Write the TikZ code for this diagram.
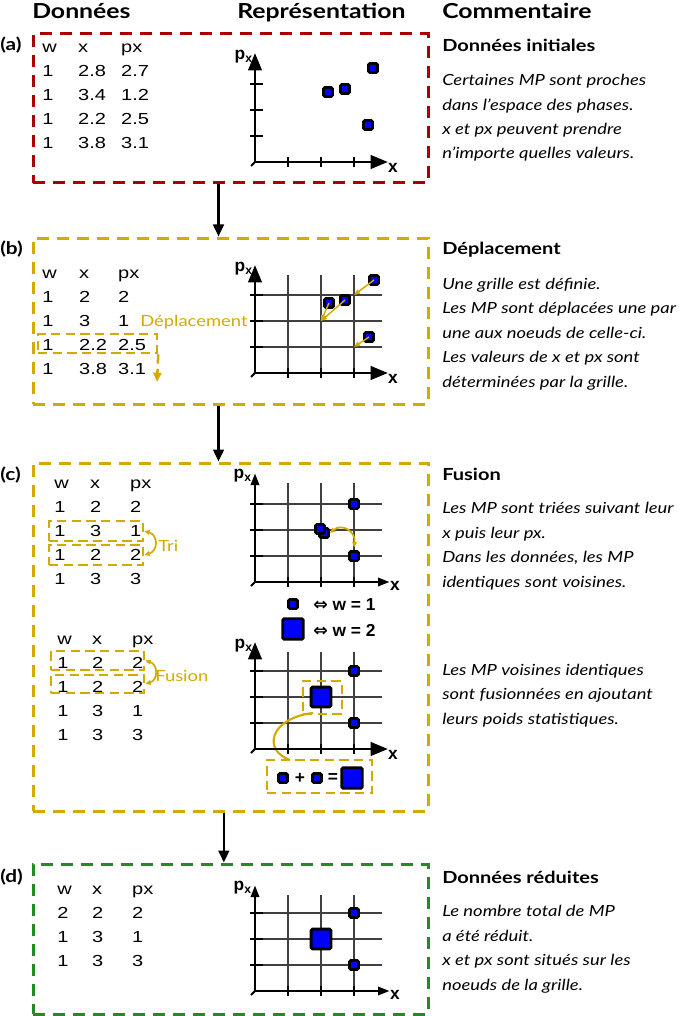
\documentclass[tikz,border=0pt]{standalone}
\usepackage{fontspec}
\setmainfont{Lato}[FakeStretch=1.2]
\newfontfamily\tabfont{Liberation Sans}[FakeStretch=1.25]
\newfontfamily\axfont{Liberation Sans}
\newfontfamily\symfont{DejaVu Sans}
\usetikzlibrary{positioning,arrows.meta,fit,calc}
\definecolor{panred}{HTML}{AA0000}
\definecolor{pangold}{HTML}{D4AA00}
\definecolor{pangreen}{HTML}{228B22}
\definecolor{mpblue}{HTML}{0000FF}
\tikzset{
  frame/.style   ={draw=#1,line width=2.25pt,dash pattern=on 9pt off 6pt,inner sep=0pt},
  hl/.style      ={draw=pangold,line width=1.9pt,dash pattern=on 7pt off 4pt,inner sep=0pt},
  flow/.style    ={-{Triangle[length=9pt,width=8pt]},line width=1.9pt},
  mp/.style      ={draw=black,fill=mpblue,line width=2.1pt,inner sep=0pt,minimum size=6.8pt,rounded corners=1pt},
  mpbig/.style   ={mp,minimum size=14.8pt},
  gridline/.style={draw=black!75,line width=0.8pt},
  tick/.style    ={line width=1.4pt},
  axbig/.style   ={line width=2.2pt,-{Triangle[length=13pt,width=10pt]}},
  axsmall/.style ={line width=2.2pt,-{Triangle[length=9pt,width=6pt]}},
  axlabel/.style ={font=\axfont\bfseries\fontsize{13}{15}\selectfont,inner sep=0pt},
  mvarrow/.style ={draw=pangold,line width=1.1pt,-{Triangle[length=4.5pt,width=3.5pt]}},
  swap/.style    ={draw=pangold,line width=1.3pt,{Triangle[length=4pt,width=3.5pt]}-{Triangle[length=4pt,width=3.5pt]}},
  link/.style    ={draw=pangold,line width=1.6pt},
  tab/.style     ={anchor=base west,inner sep=0pt,font=\tabfont\fontsize{12}{18}\selectfont},
  head/.style    ={anchor=base west,inner sep=0pt,font=\bfseries\fontsize{15.5}{18}\selectfont},
  panlbl/.style  ={anchor=base west,inner sep=0pt,font=\bfseries\fontsize{13}{15}\selectfont},
  title/.style   ={anchor=base west,inner sep=0pt,font=\bfseries\fontsize{12.5}{15}\selectfont},
  comment/.style ={anchor=base west,inner sep=0pt,align=left,font=\itshape\fontsize{11.5}{18.3}\selectfont},
  goldtxt/.style ={anchor=base west,inner sep=0pt,text=pangold,font=\fontsize{11.5}{14}\selectfont},
  legtxt/.style  ={anchor=west,inner sep=0pt,font=\axfont\bfseries\fontsize{13}{15}\selectfont},
}

\begin{document}
\begin{tikzpicture}[x=0.75pt,y=-0.75pt]
  \useasboundingbox (0,0) rectangle (684,1016);

  % column headers
  \node[head] (hdon) at (32,19) {Données};
  \node[head] (hrep) at (237,19) {Représentation};
  \node[head] (hcom) at (442,19) {Commentaire};

  % panels
  \node[frame=panred,   fit={(33,34)(428,183)}]  (pa) {};
  \node[frame=pangold,  fit={(33,238)(428,404)}] (pb) {};
  \node[frame=pangold,  fit={(33,463)(428,811)}] (pc) {};
  \node[frame=pangreen, fit={(33,864)(428,1014)}] (pd) {};
  \node[panlbl] (la) at (0,51)  {(a)};
  \node[panlbl] (lb) at (0,254) {(b)};
  \node[panlbl] (lc) at (0,480) {(c)};
  \node[panlbl] (ld) at (0,882) {(d)};

  \draw[flow] ([xshift=-9pt]pa.south) -- ([xshift=-9pt]pb.north);
  \draw[flow] ([xshift=-9pt]pb.south) -- ([xshift=-9pt]pc.north);
  \draw[flow] ([xshift=-5pt]pc.south) -- ([xshift=-5pt]pd.north);

  % ---- (a) donnees initiales
  \node[tab] (ta) at (42,53) {\begin{tabular}[t]{@{}p{27pt}@{}p{32.25pt}@{}l@{}}
    w & x & px\\ 1 & 2.8 & 2.7\\ 1 & 3.4 & 1.2\\ 1 & 2.2 & 2.5\\ 1 & 3.8 & 3.1\end{tabular}};
  \begin{scope}[shift={(255,162)}]
    \foreach \gx in {33,66,99} \draw[tick] (\gx,-5) -- (\gx,5);
    \foreach \gy in {-26,-52,-78} \draw[tick] (-5,\gy) -- (8,\gy);
    \draw[tick] (0,0) -- (-4,4);
    \draw[axbig] (0,0) -- (0,-109);
    \draw[axbig] (0,0) -- (133,0);
    \node[axlabel,anchor=east] (apx) at (-2,-105) {p\textsubscript{x}};
    \node[axlabel] (ax) at (138,6) {x};
    \node[mp] (a1) at (73,-70) {};
    \node[mp] (a2) at (90,-73) {};
    \node[mp] (a3) at (118,-94) {};
    \node[mp] (a4) at (113,-37) {};
  \end{scope}
  \node[title] (tia) at (442,52) {Données initiales};
  \node[comment] (cma) at (442,159) {Certaines MP sont proches\\dans l'espace des phases.\\x et px peuvent prendre\\n'importe quelles valeurs.};

  % ---- (b) deplacement
  \node[tab] (tb) at (42,278) {\begin{tabular}[t]{@{}p{27.75pt}@{}p{29.25pt}@{}l@{}}
    w & x & px\\ 1 & 2 & 2\\ 1 & 3 & 1\\ 1 & 2.2 & 2.5\\ 1 & 3.8 & 3.1\end{tabular}};
  \node[hl, fit={(38,334)(157,353)}] (hb) {};
  \coordinate (hbend) at (157,382);
  \draw[hl,-{Triangle[length=7pt,width=6pt,fill=pangold]}] (hb.south east) -- (hbend);
  \node[goldtxt] (gdep) at (140,326) {Déplacement};
  \begin{scope}[shift={(255,373)}]
    \foreach \gx in {33,66,99} \draw[gridline] (\gx,0) -- (\gx,-98);
    \foreach \gy in {-26,-52,-78} \draw[gridline] (-5,\gy) -- (127,\gy);
    \foreach \gx in {33,66,99} \draw[tick] (\gx,-5) -- (\gx,5);
    \foreach \gy in {-26,-52,-78} \draw[tick] (-5,\gy) -- (8,\gy);
    \draw[tick] (0,0) -- (-4,4);
    \draw[axbig] (0,0) -- (0,-108);
    \draw[axbig] (0,0) -- (133,0);
    \node[axlabel,anchor=east] (bpx) at (-2,-104) {p\textsubscript{x}};
    \node[axlabel] (bx) at (138,6) {x};
    \coordinate (bg1) at (66,-52);
    \coordinate (bg2) at (99,-78);
    \coordinate (bg3) at (99,-26);
    \node[mp] (b1) at (74,-70) {};
    \node[mp] (b2) at (90,-73) {};
    \node[mp] (b3) at (119,-93) {};
    \node[mp] (b4) at (114,-36) {};
    \draw[mvarrow] (b1.center) -- (bg1);
    \draw[mvarrow] (b2.center) -- (bg1);
    \draw[mvarrow] (b3.center) -- (bg2);
    \draw[mvarrow] (b4.center) -- (bg3);
  \end{scope}
  \node[title] (tib) at (442,254) {Déplacement};
  \node[comment] (cmb) at (442,387) {Une grille est définie.\\Les MP sont déplacées une par\\une aux noeuds de celle-ci.\\Les valeurs de x et px sont\\déterminées par la grille.};

  % ---- (c) fusion : tri
  \node[tab] (tc) at (54,488) {\begin{tabular}[t]{@{}p{27pt}@{}p{30pt}@{}l@{}}
    w & x & px\\ 1 & 2 & 2\\ 1 & 3 & 1\\ 1 & 2 & 2\\ 1 & 3 & 3\end{tabular}};
  \node[hl, fit={(49,521)(143,541)}] (hc1) {};
  \node[hl, fit={(49,545)(143,565)}] (hc2) {};
  \draw[swap] (hc1.east) .. controls +(14,4) and +(14,-4) .. (hc2.east);
  \node[goldtxt] (gtri) at (158,551) {Tri};
  \begin{scope}[shift={(255,582)}]
    \foreach \gx in {33,66,99} \draw[gridline] (\gx,0) -- (\gx,-99);
    \foreach \gy in {-26,-52,-78} \draw[gridline] (-5,\gy) -- (127,\gy);
    \foreach \gx in {33,66,99} \draw[tick] (\gx,-5) -- (\gx,5);
    \foreach \gy in {-26,-52,-78} \draw[tick] (-5,\gy) -- (8,\gy);
    \draw[tick] (0,0) -- (-4,4);
    \draw[axsmall] (0,0) -- (0,-109);
    \draw[axsmall] (0,0) -- (135,0);
    \node[axlabel,anchor=east] (cpx) at (-3,-106) {p\textsubscript{x}};
    \node[axlabel] (cx) at (140,4) {x};
    \node[mp] (c1) at (99,-78) {};
    \node[mp] (c2) at (99,-26) {};
    \node[mp] (c3) at (69,-49) {};
    \node[mp] (c4) at (65,-53) {};
    \draw[swap] (c3.east) .. controls +(12,-10) and +(2,-16) .. ([yshift=2pt]c2.north);
  \end{scope}
  \node[mp] (lg1) at (293,604) {};
  \node[legtxt] (lgt1) at (313,605) {{\symfont\bfseries ⇔} w = 1};
  \node[mp,minimum size=15.4pt] (lg2) at (293,629) {};
  \node[legtxt] (lgt2) at (313,630) {{\symfont\bfseries ⇔} w = 2};
  \node[title] (tic) at (442,480) {Fusion};
  \node[comment] (cmc) at (442,587) {Les MP sont triées suivant leur\\x puis leur px.\\Dans les données, les MP\\identiques sont voisines.};

  % ---- (c) fusion : somme des poids
  \node[tab] (tf) at (57,644) {\begin{tabular}[t]{@{}p{26.25pt}@{}p{30pt}@{}l@{}}
    w & x & px\\ 1 & 2 & 2\\ 1 & 2 & 2\\ 1 & 3 & 1\\ 1 & 3 & 3\end{tabular}};
  \node[hl, fit={(51,651)(144,670)}] (hf1) {};
  \node[hl, fit={(51,675)(144,693)}] (hf2) {};
  \draw[swap] (hf1.east) .. controls +(13,4) and +(13,-4) .. (hf2.east);
  \node[goldtxt] (gfus) at (155,681) {Fusion};
  \begin{scope}[shift={(255,749)}]
    \foreach \gx in {33,66,99} \draw[gridline] (\gx,0) -- (\gx,-97);
    \foreach \gy in {-26,-52,-78} \draw[gridline] (-5,\gy) -- (127,\gy);
    \draw[link] (58,-36) .. controls (15,-31) and (7,1) .. (35,11);
    \foreach \gx in {33,66,99} \draw[tick] (\gx,-5) -- (\gx,5);
    \foreach \gy in {-26,-52,-78} \draw[tick] (-5,\gy) -- (8,\gy);
    \draw[tick] (0,0) -- (-4,4);
    \draw[axbig] (0,0) -- (0,-107);
    \draw[axbig] (0,0) -- (133,0);
    \node[axlabel,anchor=east] (fpx) at (-2,-103) {p\textsubscript{x}};
    \node[axlabel] (fx) at (138,6) {x};
    \node[mp] (f1) at (99,-78) {};
    \node[mp] (f2) at (99,-26) {};
    \node[mpbig] (f3) at (66,-52) {};
    \node[hl, fit={(48,-68)(87,-35)}] (mbox) {};
  \end{scope}
  \node[mp] (s1) at (283,778) {};
  \node[legtxt,anchor=center] (splus) at (300,778) {+};
  \node[mp] (s2) at (317,778) {};
  \node[legtxt,anchor=center] (seq) at (333,778) {=};
  \node[mp,minimum size=15.4pt] (s3) at (352,778) {};
  \node[hl, fit={(267,760)(372,793)}] (sbox) {};
  \node[comment] (cmf) at (442,724) {Les MP voisines identiques\\sont fusionnées en ajoutant\\leurs poids statistiques.};

  % ---- (d) donnees reduites
  \node[tab] (td) at (57,894) {\begin{tabular}[t]{@{}p{26.25pt}@{}p{30pt}@{}l@{}}
    w & x & px\\ 2 & 2 & 2\\ 1 & 3 & 1\\ 1 & 3 & 3\end{tabular}};
  \begin{scope}[shift={(255,991)}]
    \foreach \gx in {33,66,99} \draw[gridline] (\gx,0) -- (\gx,-96);
    \foreach \gy in {-26,-52,-78} \draw[gridline] (-5,\gy) -- (127,\gy);
    \foreach \gx in {33,66,99} \draw[tick] (\gx,-5) -- (\gx,5);
    \foreach \gy in {-26,-52,-78} \draw[tick] (-5,\gy) -- (8,\gy);
    \draw[tick] (0,0) -- (-4,4);
    \draw[axsmall] (0,0) -- (0,-106);
    \draw[axsmall] (0,0) -- (135,0);
    \node[axlabel,anchor=east] (dpx) at (-3,-103) {p\textsubscript{x}};
    \node[axlabel] (dx) at (140,4) {x};
    \node[mp] (d1) at (99,-78) {};
    \node[mp] (d2) at (99,-26) {};
    \node[mpbig] (d3) at (66,-52) {};
  \end{scope}
  \node[title] (tid) at (442,883) {Données réduites};
  \node[comment] (cmd) at (442,990) {Le nombre total de MP\\a été réduit.\\x et px sont situés sur les\\noeuds de la grille.};
\end{tikzpicture}
\end{document}
